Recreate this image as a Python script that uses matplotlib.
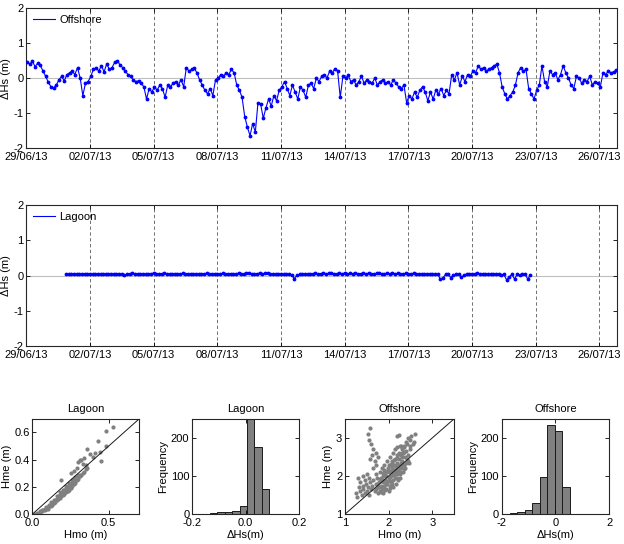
import matplotlib.pyplot as plt
import matplotlib.dates as mdates
from matplotlib.lines import Line2D
import pandas as pd

plt.rcParams['font.family'] = ['Liberation Sans', 'DejaVu Sans']
plt.rcParams['font.size'] = 8
plt.rcParams['axes.unicode_minus'] = False

# time series of dHs (m), 3-hourly samples
offshore_start = '2013-06-29 01:00'
offshore_dhs = [
    0.45, 0.40, 0.48, 0.33, 0.42, 0.36, 0.20, 0.05,
    -0.12, -0.25, -0.28, -0.20, -0.05, 0.05, -0.08, 0.10,
    0.15, 0.20, 0.10, 0.30, 0.00, -0.50, -0.15, -0.10,
    0.05, 0.25, 0.30, 0.20, 0.35, 0.18, 0.40, 0.25,
    0.30, 0.45, 0.50, 0.38, 0.30, 0.20, 0.10, 0.05,
    -0.05, -0.10, -0.08, -0.15, -0.25, -0.60, -0.30, -0.40,
    -0.25, -0.35, -0.20, -0.30, -0.55, -0.20, -0.25, -0.15,
    -0.10, -0.20, -0.05, -0.25, 0.30, 0.20, 0.25, 0.28,
    0.15, -0.05, -0.20, -0.35, -0.45, -0.30, -0.50, -0.05,
    0.00, 0.10, 0.05, 0.15, 0.10, 0.25, 0.15, -0.20,
    -0.35, -0.55, -1.10, -1.40, -1.65, -1.30, -1.55, -0.70,
    -0.75, -1.15, -0.85, -0.60, -0.80, -0.50, -0.65, -0.35,
    -0.25, -0.10, -0.30, -0.50, -0.20, -0.40, -0.60, -0.25,
    -0.35, -0.55, -0.20, -0.15, -0.30, 0.00, -0.10, 0.05,
    0.10, 0.00, 0.20, 0.15, 0.27, 0.20, -0.55, 0.05,
    0.00, 0.08, -0.10, -0.05, -0.20, -0.10, 0.05, -0.15,
    -0.05, -0.10, -0.15, 0.00, -0.20, -0.10, -0.05, -0.15,
    -0.10, -0.20, -0.05, -0.15, -0.25, -0.30, -0.20, -0.70,
    -0.50, -0.60, -0.40, -0.55, -0.35, -0.25, -0.40, -0.65,
    -0.40, -0.60, -0.35, -0.45, -0.30, -0.50, -0.35, -0.45,
    0.10, -0.05, 0.15, -0.20, 0.05, -0.10, 0.10, 0.05,
    0.20, 0.15, 0.35, 0.25, 0.30, 0.20, 0.25, 0.30,
    0.35, 0.40, 0.15, -0.25, -0.45, -0.60, -0.50, -0.40,
    -0.20, 0.15, 0.30, 0.20, 0.25, -0.30, -0.45, -0.60,
    -0.35, -0.20, 0.35, -0.10, -0.25, 0.20, 0.10, 0.15,
    -0.05, 0.10, 0.35, 0.15, 0.00, -0.20, -0.30, 0.05,
    0.00, -0.15, -0.05, -0.10, 0.05, -0.20, -0.10, -0.15,
    -0.25, 0.15, 0.10, 0.20, 0.15, 0.18, 0.22,
]

lagoon_start = '2013-06-30 21:00'
lagoon_dhs = [
    0.05, 0.04, 0.04, 0.05, 0.04, 0.03, 0.04, 0.05,
    0.04, 0.05, 0.03, 0.04, 0.05, 0.04, 0.03, 0.04,
    0.05, 0.04, 0.03, 0.04, 0.05, 0.04, 0.02, 0.03,
    0.04, 0.06, 0.05, 0.03, 0.04, 0.05, 0.03, 0.04,
    0.05, 0.07, 0.04, 0.03, 0.05, 0.06, 0.04, 0.03,
    0.04, 0.05, 0.03, 0.04, 0.06, 0.05, 0.03, 0.04,
    0.05, 0.04, 0.03, 0.05, 0.04, 0.06, 0.04, 0.03,
    0.04, 0.05, 0.03, 0.06, 0.05, 0.04, 0.05, 0.03,
    0.04, 0.07, 0.05, 0.03, 0.06, 0.08, 0.04, 0.03,
    0.05, 0.07, 0.04, 0.06, 0.08, 0.05, 0.03, 0.04,
    0.05, 0.04, 0.03, 0.05, 0.04, 0.02, -0.09, 0.01,
    0.03, 0.05, 0.04, 0.03, 0.05, 0.04, 0.06, 0.04,
    0.05, 0.07, 0.04, 0.06, 0.08, 0.05, 0.04, 0.06,
    0.05, 0.07, 0.04, 0.06, 0.05, 0.07, 0.04, 0.05,
    0.06, 0.04, 0.07, 0.05, 0.04, 0.06, 0.08, 0.05,
    0.04, 0.06, 0.05, 0.07, 0.04, 0.06, 0.05, 0.04,
    0.06, 0.05, 0.04, 0.06, 0.03, 0.05, 0.04, 0.05,
    0.04, 0.05, 0.04, 0.03, 0.05, -0.10, -0.07, 0.03,
    0.04, -0.06, 0.02, 0.04, 0.03, -0.05, 0.02, 0.04,
    0.03, 0.05, 0.04, 0.06, 0.03, 0.05, 0.04, 0.03,
    0.04, 0.05, 0.03, 0.04, 0.02, 0.03, -0.12, -0.04,
    0.03, -0.10, 0.04, 0.02, 0.04, 0.03, -0.10, 0.02,
]

tick_dates = ['2013-06-29', '2013-07-02', '2013-07-05', '2013-07-08', '2013-07-11',
              '2013-07-14', '2013-07-17', '2013-07-20', '2013-07-23', '2013-07-26']
date_range = ['2013-06-29 00:00', '2013-07-26 20:00']

# measured (Hmo) vs estimated (Hme) wave heights
lag_hmo = [0.02, 0.03, 0.04, 0.05, 0.05, 0.06, 0.07, 0.08, 0.08, 0.09,
           0.10, 0.10, 0.11, 0.12, 0.12, 0.13, 0.13, 0.14, 0.14, 0.15,
           0.15, 0.16, 0.16, 0.17, 0.17, 0.17, 0.18, 0.18, 0.18, 0.19,
           0.19, 0.19, 0.20, 0.20, 0.20, 0.21, 0.21, 0.21, 0.22, 0.22,
           0.22, 0.22, 0.23, 0.23, 0.23, 0.23, 0.24, 0.24, 0.24, 0.24,
           0.25, 0.25, 0.25, 0.25, 0.26, 0.26, 0.26, 0.27, 0.27, 0.27,
           0.28, 0.28, 0.28, 0.29, 0.29, 0.30, 0.30, 0.31, 0.31, 0.32,
           0.33, 0.34, 0.35, 0.36, 0.12, 0.16, 0.18, 0.20, 0.22, 0.24,
           0.26, 0.28, 0.30, 0.19, 0.25, 0.27, 0.29, 0.30, 0.31, 0.32,
           0.33, 0.34, 0.35, 0.36, 0.38, 0.40, 0.41, 0.43, 0.45, 0.44,
           0.48, 0.53, 0.48, 0.06, 0.09, 0.11, 0.14, 0.21, 0.23, 0.27]
lag_hme = [0.00, 0.01, 0.01, 0.02, 0.01, 0.02, 0.03, 0.03, 0.04, 0.04,
           0.05, 0.04, 0.06, 0.06, 0.07, 0.07, 0.08, 0.08, 0.09, 0.09,
           0.10, 0.10, 0.11, 0.11, 0.12, 0.13, 0.12, 0.13, 0.14, 0.13,
           0.14, 0.15, 0.14, 0.15, 0.16, 0.15, 0.16, 0.17, 0.16, 0.17,
           0.18, 0.19, 0.17, 0.18, 0.19, 0.20, 0.18, 0.19, 0.20, 0.21,
           0.19, 0.20, 0.21, 0.22, 0.21, 0.22, 0.23, 0.22, 0.23, 0.24,
           0.23, 0.24, 0.25, 0.25, 0.26, 0.26, 0.27, 0.28, 0.29, 0.29,
           0.30, 0.31, 0.33, 0.34, 0.09, 0.13, 0.16, 0.18, 0.21, 0.23,
           0.25, 0.27, 0.29, 0.25, 0.30, 0.32, 0.34, 0.38, 0.40, 0.40,
           0.37, 0.41, 0.36, 0.48, 0.44, 0.42, 0.45, 0.54, 0.39, 0.46,
           0.61, 0.64, 0.50, 0.03, 0.05, 0.07, 0.10, 0.18, 0.21, 0.26]

off_hmo = [1.25, 1.28, 1.30, 1.32, 1.35, 1.35, 1.38, 1.40, 1.40, 1.42,
           1.45, 1.45, 1.48, 1.50, 1.50, 1.52, 1.55, 1.55, 1.58, 1.60,
           1.52, 1.57, 1.55, 1.60, 1.65, 1.62, 1.58, 1.68, 1.70, 1.72,
           1.65, 1.75, 1.62, 1.65, 1.68, 1.70, 1.70, 1.72, 1.74, 1.75,
           1.76, 1.78, 1.80, 1.80, 1.82, 1.83, 1.85, 1.85, 1.86, 1.88,
           1.88, 1.90, 1.90, 1.92, 1.93, 1.94, 1.95, 1.96, 1.97, 1.98,
           2.00, 2.00, 2.01, 2.02, 2.03, 2.04, 2.05, 2.06, 2.07, 2.08,
           2.09, 2.10, 2.10, 2.11, 2.12, 2.13, 2.14, 2.15, 2.15, 2.16,
           2.17, 2.18, 2.19, 2.20, 2.20, 2.21, 2.22, 2.23, 2.24, 2.25,
           2.25, 2.26, 2.27, 2.28, 2.29, 2.30, 2.31, 2.32, 2.33, 2.35,
           2.36, 2.37, 2.38, 2.40, 2.42, 2.43, 2.45, 2.47, 2.48, 2.50,
           2.52, 2.55, 2.58, 2.60, 2.45, 2.20, 2.23, 1.78, 1.84, 1.92,
           1.96, 2.02, 2.06, 2.12, 2.16, 2.22, 2.28, 1.86, 1.94, 2.04,
           2.14, 2.20, 2.26, 2.32, 1.90, 2.00, 2.08, 2.18, 2.24, 2.30,
           2.36, 1.74, 1.80, 1.88, 1.98, 2.06, 2.12, 1.82, 1.92, 2.02,
           2.08, 2.18, 2.26, 2.34, 2.40, 2.44, 2.34, 2.40, 2.50, 2.28, 2.30]
off_hme = [1.55, 1.45, 1.95, 1.70, 1.60, 1.85, 1.50, 1.75, 2.00, 1.65,
           1.55, 1.90, 1.80, 1.60, 2.05, 1.70, 1.95, 1.50, 1.85, 1.65,
           3.10, 3.25, 2.95, 2.85, 2.70, 2.55, 2.45, 2.40, 2.60, 2.30,
           2.20, 2.50, 1.75, 1.90, 1.60, 1.80, 2.05, 1.65, 1.95, 1.70,
           1.55, 1.85, 2.10, 1.60, 1.75, 1.95, 2.20, 1.65, 1.85, 2.00,
           1.55, 1.75, 2.30, 1.90, 2.10, 1.65, 2.00, 2.40, 1.80, 2.20,
           1.95, 1.60, 2.10, 2.30, 1.75, 2.50, 2.00, 1.85, 2.20, 2.40,
           1.70, 2.05, 2.60, 1.90, 2.30, 2.15, 2.70, 1.95, 2.45, 1.80,
           2.25, 2.55, 2.05, 2.75, 2.35, 1.90, 2.15, 2.60, 2.45, 2.05,
           2.80, 2.30, 1.95, 2.55, 2.20, 2.70, 2.40, 2.10, 2.60, 2.30,
           2.80, 2.50, 2.20, 2.65, 2.45, 2.85, 2.55, 2.35, 2.95, 2.70,
           3.05, 2.85, 2.90, 3.10, 3.00, 3.05, 3.08, 1.72, 1.90, 2.02,
           1.88, 1.98, 2.12, 2.02, 2.18, 2.25, 2.35, 1.70, 1.78, 1.88,
           2.08, 2.12, 2.20, 2.28, 2.15, 2.28, 2.35, 2.48, 2.58, 2.50,
           2.62, 1.78, 1.92, 2.08, 2.15, 2.28, 2.42, 1.58, 1.62, 1.68,
           1.78, 1.95, 2.10, 2.18, 2.35, 2.40, 2.75, 2.90, 2.80, 2.78, 2.60]

# histograms of dHs
lag_bins = [-0.120, -0.092, -0.064, -0.036, -0.008, 0.018, 0.046, 0.074]
lag_counts = [3, 5, 5, 8, 21, 255, 177, 65]
off_bins = [-1.56, -1.28, -1.00, -0.72, -0.44, -0.16, 0.12, 0.40]
off_counts = [2, 5, 10, 30, 98, 233, 219, 70]


def matlab_box(ax):
    ax.tick_params(direction='in', top=True, right=True, length=3, width=0.6, pad=2)
    ax.tick_params(axis='x', pad=3)
    for s in ax.spines.values():
        s.set_linewidth(0.8)
        s.set_color('0.15')


def series_panel(ax, start, values, label):
    t = pd.date_range(start, periods=len(values), freq='3h')
    ax.axhline(0, color='0.75', lw=0.8, zorder=1)
    ax.plot(t, values, '.-', color='b', lw=0.8, ms=3.5, zorder=3)
    ax.set_xlim(pd.to_datetime(date_range[0]), pd.to_datetime(date_range[1]))
    ax.set_ylim(-2, 2)
    ax.set_yticks([-2, -1, 0, 1, 2])
    ax.set_xticks(pd.to_datetime(tick_dates))
    ax.xaxis.set_major_formatter(mdates.DateFormatter('%d/%m/%y'))
    ax.grid(axis='x', color='0.35', lw=0.6, linestyle=(0, (4, 3)))
    ax.set_ylabel('ΔHs (m)', labelpad=2)
    ax.legend([Line2D([], [], color='b', lw=0.8)], [label], loc='upper left',
              frameon=False, handlelength=2.0, handletextpad=0.4,
              borderaxespad=0.2, fontsize=8)
    matlab_box(ax)


def scatter_panel(ax, hmo, hme, lo, hi, ticks, title):
    ax.plot(hmo, hme, '.', color='0.5', ms=4, zorder=2)
    ax.plot([lo, hi], [lo, hi], color='0.1', lw=0.7, zorder=3)
    ax.set_xlim(lo, hi)
    ax.set_ylim(lo, hi)
    ax.set_xticks(ticks[0])
    ax.set_yticks(ticks[1])
    ax.set_xlabel('Hmo (m)', labelpad=1)
    ax.set_ylabel('Hme (m)', labelpad=2)
    ax.set_title(title, fontsize=8, pad=5)
    matlab_box(ax)


def hist_panel(ax, centres, counts, width, xlim, xticks, title):
    ax.bar(centres, counts, width=width, color='0.5', edgecolor='0.1', lw=0.7)
    ax.set_xlim(xlim)
    ax.set_ylim(0, 250)
    ax.set_xticks(xticks)
    ax.set_yticks([0, 100, 200])
    ax.set_xlabel('ΔHs(m)', labelpad=1)
    ax.set_ylabel('Frequency', labelpad=2)
    ax.set_title(title, fontsize=8, pad=5)
    matlab_box(ax)


fig = plt.figure(figsize=(6.24, 5.44), dpi=100)

ax1 = fig.add_axes([0.042, 0.728, 0.947, 0.257])
series_panel(ax1, offshore_start, offshore_dhs, 'Offshore')

ax2 = fig.add_axes([0.042, 0.364, 0.947, 0.259])
series_panel(ax2, lagoon_start, lagoon_dhs, 'Lagoon')

ax3 = fig.add_axes([0.052, 0.055, 0.171, 0.175])
scatter_panel(ax3, lag_hmo, lag_hme, 0, 0.7, ([0, 0.5], [0, 0.2, 0.4, 0.6]), 'Lagoon')

ax4 = fig.add_axes([0.308, 0.055, 0.1715, 0.175])
hist_panel(ax4, lag_bins, lag_counts, 0.028, (-0.2, 0.2), [-0.2, 0, 0.2], 'Lagoon')

ax5 = fig.add_axes([0.553, 0.055, 0.1747, 0.175])
scatter_panel(ax5, off_hmo, off_hme, 1, 3.5, ([1, 2, 3], [1, 2, 3]), 'Offshore')

ax6 = fig.add_axes([0.804, 0.055, 0.1724, 0.175])
hist_panel(ax6, off_bins, off_counts, 0.28, (-2, 2), [-2, 0, 2], 'Offshore')

fig.savefig('out.png', dpi=100)
